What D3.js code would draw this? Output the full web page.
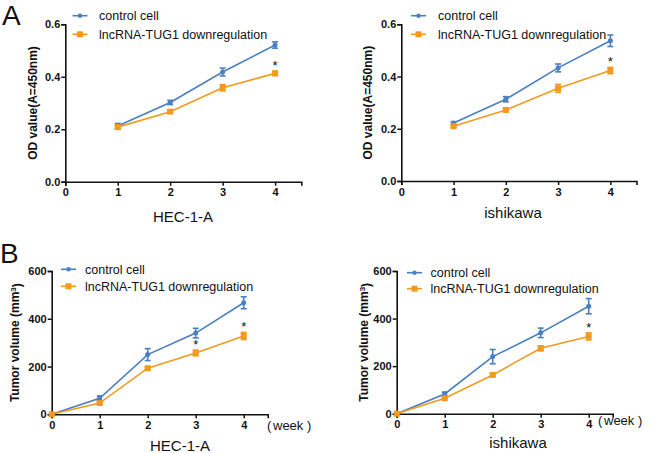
<!DOCTYPE html>
<html><head><meta charset="utf-8">
<script src="https://cdn.jsdelivr.net/npm/d3@7"></script>
<style>body{margin:0;background:#fff}svg{display:block}text{font-family:"Liberation Sans",Arial,sans-serif}</style>
</head><body>
<svg id="c" width="650" height="453"></svg>
<script>
// ---- data ----
const weeksA = [1, 2, 3, 4];
const weeksB = [0, 1, 2, 3, 4];
const seriesNames = ["control cell", "lncRNA-TUG1 downregulation"];

const heeA_ctrl = [0.212, 0.302, 0.418, 0.521];
const heeA_ctrlErr = [0.010, 0.008, 0.015, 0.012];
const heeA_down = [0.208, 0.267, 0.358, 0.413];
const heeA_downErr = [0.008, 0.005, 0.012, 0.008];
const heeA_star = [4];

const ishA_ctrl = [0.222, 0.313, 0.433, 0.537];
const ishA_ctrlErr = [0.005, 0.010, 0.015, 0.022];
const ishA_down = [0.210, 0.272, 0.355, 0.423];
const ishA_downErr = [0.005, 0.005, 0.015, 0.012];
const ishA_star = [4];

const heeB_ctrl = [0, 67, 250, 340, 467];
const heeB_ctrlErr = [0, 10, 25, 20, 25];
const heeB_down = [0, 47, 193, 257, 328];
const heeB_downErr = [0, 5, 5, 12, 15];
const heeB_star = [3, 4];

const ishB_ctrl = [0, 83, 240, 340, 452];
const ishB_ctrlErr = [0, 8, 30, 20, 32];
const ishB_down = [0, 65, 163, 275, 325];
const ishB_downErr = [0, 5, 5, 10, 15];
const ishB_star = [4];

const xTicks = [0, 1, 2, 3, 4];
const yTicksA = [0, 0.2, 0.4, 0.6];
const yTicksB = [0, 200, 400, 600];

const BLUE = "#4a7fc1", ORANGE = "#f39a1e";
const svg = d3.select("#c");

function panel(o) {
  const g = svg.append("g");
  const x = d3.scaleLinear().domain([0, 4.5]).range([o.x0, o.x1]);
  const y = d3.scaleLinear().domain([0, o.ymax]).range([o.y0, o.y1]);

  const ya = g.append("g").attr("transform", `translate(${o.x0},0)`)
    .call(d3.axisLeft(y).tickValues(o.yTicks).tickFormat(o.fmt).tickSizeOuter(0).tickSize(4));
  const xa = g.append("g").attr("transform", `translate(0,${o.y0})`)
    .call(d3.axisBottom(x).tickValues(xTicks).tickFormat(d3.format("d")).tickSizeOuter(0).tickSize(4));
  [ya, xa].forEach(a => {
    a.select(".domain").attr("stroke", "#111").attr("stroke-width", 1.6);
    a.selectAll(".tick line").attr("stroke", "#111").attr("stroke-width", 1.5);
    a.selectAll("text").attr("fill", "#111").style("font-size", "11px").style("font-weight", "bold")
      .style("font-family", '"Liberation Sans",Arial,sans-serif');
  });
  ya.selectAll("text").attr("x", -5);
  xa.selectAll("text").attr("y", 7);

  const sets = [
    {v: o.ctrl, e: o.ctrlErr, c: BLUE, m: "circle"},
    {v: o.down, e: o.downErr, c: ORANGE, m: "square"}
  ];
  sets.forEach(s => {
    const pts = o.weeks.map((w, i) => ({w, v: s.v[i], e: s.e[i]}));
    g.append("path").datum(pts).attr("fill", "none").attr("stroke", s.c).attr("stroke-width", 1.6)
      .attr("d", d3.line().x(d => x(d.w)).y(d => y(d.v)));
    const eb = g.selectAll(null).data(pts.filter(d => d.e > 0)).enter().append("g").attr("stroke", s.c).attr("stroke-width", 1.6);
    eb.append("line").attr("x1", d => x(d.w)).attr("x2", d => x(d.w)).attr("y1", d => y(d.v - d.e)).attr("y2", d => y(d.v + d.e));
    eb.append("line").attr("x1", d => x(d.w) - 3).attr("x2", d => x(d.w) + 3).attr("y1", d => y(d.v - d.e)).attr("y2", d => y(d.v - d.e));
    eb.append("line").attr("x1", d => x(d.w) - 3).attr("x2", d => x(d.w) + 3).attr("y1", d => y(d.v + d.e)).attr("y2", d => y(d.v + d.e));
    if (s.m === "circle") {
      g.selectAll(null).data(pts).enter().append("circle").attr("cx", d => x(d.w)).attr("cy", d => y(d.v)).attr("r", 2.5).attr("fill", s.c);
    } else {
      g.selectAll(null).data(pts).enter().append("rect").attr("x", d => x(d.w) - 3).attr("y", d => y(d.v) - 3).attr("width", 6).attr("height", 6).attr("fill", s.c);
    }
  });
  // asterisks
  g.selectAll(null).data(o.star).enter().append("text")
    .attr("x", d => x(d)).attr("y", d => { const i = o.weeks.indexOf(d); return y(o.down[i] + o.downErr[i]) - 1; })
    .attr("text-anchor", "middle").style("font-size", "13px").attr("fill", "#111").text("*");

  // legend
  seriesNames.forEach((n, i) => {
    const ly = o.legY[i];
    const c = i === 0 ? BLUE : ORANGE;
    g.append("line").attr("x1", o.legX).attr("x2", o.legX + 15).attr("y1", ly).attr("y2", ly).attr("stroke", c).attr("stroke-width", 1.6);
    if (i === 0) g.append("circle").attr("cx", o.legX + 7.5).attr("cy", ly).attr("r", 2.2).attr("fill", c);
    else g.append("rect").attr("x", o.legX + 4.5).attr("y", ly - 3).attr("width", 6).attr("height", 6).attr("fill", c);
    g.append("text").attr("x", o.legTx).attr("y", ly + 4.5).style("font-size", "12.5px").attr("fill", "#111").text(n);
  });

  // y label
  const yl = g.append("text").attr("transform", `translate(${o.ylx},${(o.y0 + o.y1) / 2}) rotate(-90)`)
    .attr("text-anchor", "middle").style("font-size", "12px").style("font-weight", "bold").attr("fill", "#111")
    .attr("dy", "0.35em");
  if (o.mm3) {
    yl.append("tspan").text("Tumor volume (mm");
    yl.append("tspan").attr("dy", "-0.45em").style("font-size", "8px").text("3");
    yl.append("tspan").attr("dy", "0.45em").text(")");
  } else yl.text(o.ylab);

  // x label
  g.append("text").attr("x", o.xlx).attr("y", o.xly).attr("text-anchor", "middle").style("font-size", "15px").attr("fill", "#111").text(o.xlab);
  if (o.week) {
    const wt = g.append("text").attr("y", o.week[1]).style("font-size", "13px").attr("fill", "#111");
    wt.append("tspan").attr("x", o.week[0]).text("(");
    wt.append("tspan").attr("x", o.week[0] + 6).text("week");
    wt.append("tspan").attr("x", o.week[0] + 40).text(")");
  }
}

panel({x0: 65.3, x1: 301.3, y0: 181.7, y1: 24.3, ymax: 0.6, yTicks: yTicksA, fmt: d3.format(".1f"),
  weeks: weeksA, ctrl: heeA_ctrl, ctrlErr: heeA_ctrlErr, down: heeA_down, downErr: heeA_downErr, star: heeA_star,
  legX: 72.5, legTx: 99, legY: [15.7, 34.3], ylx: 33, ylab: "OD value(A=450nm)", xlx: 183, xly: 222, xlab: "HEC-1-A"});
panel({x0: 401.3, x1: 636.5, y0: 181, y1: 24.3, ymax: 0.6, yTicks: yTicksA, fmt: d3.format(".1f"),
  weeks: weeksA, ctrl: ishA_ctrl, ctrlErr: ishA_ctrlErr, down: ishA_down, downErr: ishA_downErr, star: ishA_star,
  legX: 411, legTx: 438, legY: [15.7, 34.3], ylx: 368, ylab: "OD value(A=450nm)", xlx: 513, xly: 218, xlab: "ishikawa"});
panel({x0: 51.7, x1: 267.7, y0: 414.3, y1: 271, ymax: 600, yTicks: yTicksB, fmt: d3.format("d"),
  weeks: weeksB, ctrl: heeB_ctrl, ctrlErr: heeB_ctrlErr, down: heeB_down, downErr: heeB_downErr, star: heeB_star,
  legX: 61, legTx: 85, legY: [269.3, 286.3], ylx: 15, mm3: true, xlx: 180, xly: 451, xlab: "HEC-1-A", week: [267, 430]});
panel({x0: 396.7, x1: 612.7, y0: 413.7, y1: 271, ymax: 600, yTicks: yTicksB, fmt: d3.format("d"),
  weeks: weeksB, ctrl: ishB_ctrl, ctrlErr: ishB_ctrlErr, down: ishB_down, downErr: ishB_downErr, star: ishB_star,
  legX: 407, legTx: 430.5, legY: [272.7, 288.7], ylx: 364, mm3: true, xlx: 518, xly: 447.7, xlab: "ishikawa", week: [598, 425]});

svg.append("text").attr("x", 2).attr("y", 25).style("font-size", "28px").attr("fill", "#111").text("A");
svg.append("text").attr("x", 0).attr("y", 262.7).style("font-size", "28px").attr("fill", "#111").text("B");
</script>
</body></html>
